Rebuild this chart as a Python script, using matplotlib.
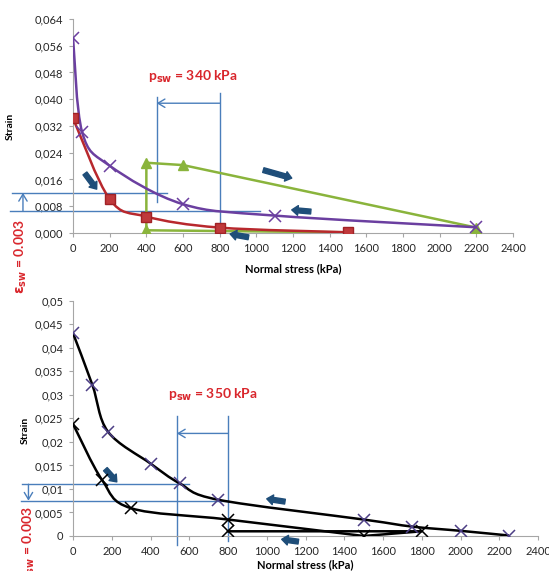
import matplotlib

matplotlib.use("Agg")
import matplotlib.pyplot as plt
import numpy as np
from matplotlib.patches import PathPatch
from matplotlib.path import Path
from matplotlib.ticker import FuncFormatter, MultipleLocator

plt.rcParams["font.family"] = ["Lato", "DejaVu Sans"]

# ---- top panel data (kPa, strain) ----
purple_x = [0, 50, 200, 600, 1100, 2200]
purple_y = [0.0584, 0.0301, 0.0201, 0.0086, 0.0052, 0.0017]
red_x = [0, 200, 400, 800, 1500]
red_y = [0.0343, 0.0101, 0.0049, 0.0016, 0.0002]
green_x = [1500, 400, 400, 600, 2200]
green_y = [0.0002, 0.0008, 0.0210, 0.0203, 0.0016]

# ---- bottom panel data ----
upper_x = [0, 100, 180, 400, 550, 750, 1500, 1750, 2000, 2250]
upper_y = [0.0431, 0.0321, 0.0222, 0.0154, 0.0112, 0.0077, 0.0035, 0.0020, 0.0011, 0.0001]
lower_x = [0, 150, 300, 800, 1500]
lower_y = [0.0238, 0.0119, 0.0059, 0.0035, 0.0]
lower_tail_x = [1500, 1800, 800]
lower_tail_y = [0.0, 0.0010, 0.0010]

RED_TXT = "#d9262c"
THIN = "#4a7ebb"
FAT = "#1f4e79"


def smooth_path(xs, ys):
    # excel-like smoothed line (catmull-rom as cubic bezier)
    pts = np.column_stack([xs, ys]).astype(float)
    n = len(pts)
    verts, codes = [pts[0]], [Path.MOVETO]
    for i in range(n - 1):
        p0 = pts[i - 1] if i > 0 else pts[i]
        p1, p2 = pts[i], pts[i + 1]
        p3 = pts[i + 2] if i + 2 < n else pts[i + 1]
        verts += [p1 + (p2 - p0) / 6, p2 - (p3 - p1) / 6, p2]
        codes += [Path.CURVE4] * 3
    return Path(verts, codes)


def smooth(ax, xs, ys, color, lw=1.8):
    ax.add_patch(PathPatch(smooth_path(xs, ys), fill=False, ec=color, lw=lw,
                           transform=ax.transData, zorder=3))


def fat_arrow(ax, tail, head):
    ax.annotate("", xy=head, xytext=tail, annotation_clip=False,
                arrowprops=dict(arrowstyle="simple,head_length=0.45,head_width=0.7,tail_width=0.35",
                                fc=FAT, ec=FAT, mutation_scale=10, shrinkA=0, shrinkB=0))


def thin_arrow(ax, tail, head):
    ax.annotate("", xy=head, xytext=tail, annotation_clip=False,
                arrowprops=dict(arrowstyle="->,head_length=0.5,head_width=0.3",
                                color=THIN, lw=1.0, shrinkA=0, shrinkB=0))


def hline(ax, y, x0, x1):
    ax.plot([x0, x1], [y, y], color=THIN, lw=1.0, clip_on=False, zorder=2)


def vline(ax, x, y0, y1):
    ax.plot([x, x], [y0, y1], color=THIN, lw=1.0, clip_on=False, zorder=2)


def style(ax, fmt):
    for s in ("top", "right"):
        ax.spines[s].set_visible(False)
    for s in ("left", "bottom"):
        ax.spines[s].set_color("#a6a6a6")
    ax.tick_params(colors="#a6a6a6", labelcolor="#262626", labelsize=8, length=3, pad=4)
    ax.yaxis.set_major_formatter(FuncFormatter(fmt))
    ax.xaxis.set_major_locator(MultipleLocator(200))
    ax.set_xlim(0, 2400)
    ax.set_xlabel("Normal stress (kPa)", fontsize=8, fontweight="bold")
    ax.set_ylabel("Strain", fontsize=7.5, fontweight="bold")


fig = plt.figure(figsize=(5.49, 5.71), dpi=100)

# ================= top =================
ax1 = fig.add_axes([0.133, 0.592, 0.8015, 0.3748])
style(ax1, lambda v, p: f"{v:.3f}".replace(".", ","))
ax1.set_ylim(0, 0.064)
ax1.yaxis.set_major_locator(MultipleLocator(0.008))
ax1.yaxis.set_label_coords(-0.132, 0.5)
ax1.xaxis.set_label_coords(0.5, -0.14)

ax1.plot(green_x, green_y, color="#8ab43c", lw=1.8, marker="^", ms=7,
         mfc="#8ab43c", mec="#8ab43c", zorder=3)
smooth(ax1, purple_x, purple_y, "#6b3fa0")
ax1.plot(purple_x, purple_y, ls="none", marker="x", ms=8, mew=1.1, color="#6b3fa0", zorder=4)
smooth(ax1, red_x, red_y, "#b8282d")
ax1.plot(red_x, red_y, ls="none", marker="s", ms=7, mfc="#c0393b", mec="#a02226", zorder=5)

hline(ax1, 0.0120, -333, 511)
hline(ax1, 0.0066, -345, 1020)
thin_arrow(ax1, (-273, 0.0066), (-273, 0.0120))
vline(ax1, 456, 0.0094, 0.0408)
vline(ax1, 802, 0.0, 0.0418)
thin_arrow(ax1, (802, 0.0388), (456, 0.0388))
ax1.text(655, 0.0467, r"p$_{\mathbf{sw}}$ = 340 kPa", color=RED_TXT, fontsize=10,
         fontweight="bold", ha="center", va="center")

fat_arrow(ax1, (65, 0.0178), (129, 0.0131))
fat_arrow(ax1, (1038, 0.0188), (1193, 0.0164))
fat_arrow(ax1, (1297, 0.0064), (1193, 0.0069))
fat_arrow(ax1, (957, -0.0013), (857, -0.0003))

fig.text(0.038, 0.55, r"$\mathbf{\varepsilon}_{\mathbf{sw}}$ = 0.003", rotation=90,
         color=RED_TXT, fontsize=10, fontweight="bold", ha="center", va="center")

# ================= bottom =================
ax2 = fig.add_axes([0.133, 0.0613, 0.847, 0.412])


def gen_fmt(v, p):
    return f"{v:.3f}".rstrip("0").rstrip(".").replace(".", ",")


style(ax2, gen_fmt)
ax2.set_ylim(0, 0.05)
ax2.yaxis.set_major_locator(MultipleLocator(0.005))
ax2.yaxis.set_label_coords(-0.094, 0.45)
ax2.xaxis.set_label_coords(0.5, -0.1)

smooth(ax2, upper_x, upper_y, "black")
ax2.plot(upper_x, upper_y, ls="none", marker="x", ms=8, mew=1.1, color="#4d3f86", zorder=4)
smooth(ax2, lower_x, lower_y, "black")
ax2.plot(lower_tail_x, lower_tail_y, color="black", lw=1.8, zorder=3)
ax2.plot(lower_x + lower_tail_x[1:], lower_y + lower_tail_y[1:], ls="none", marker="x",
         ms=8, mew=1.1, color="black", zorder=4)

hline(ax2, 0.0110, -263, 600)
hline(ax2, 0.0075, -270, 800)
thin_arrow(ax2, (-230, 0.0110), (-230, 0.0075))
vline(ax2, 536, -0.0019, 0.0254)
vline(ax2, 800, -0.0010, 0.0254)
thin_arrow(ax2, (800, 0.0218), (536, 0.0218))
ax2.text(724, 0.0300, r"p$_{\mathbf{sw}}$ = 350 kPa", color=RED_TXT, fontsize=10,
         fontweight="bold", ha="center", va="center")

fat_arrow(ax2, (167, 0.0142), (226, 0.0115))
fat_arrow(ax2, (1094, 0.0073), (1000, 0.0079))
fat_arrow(ax2, (1163, -0.0012), (1077, -0.0007))

fig.text(0.053, 0.047, r"$\mathbf{\varepsilon}_{\mathbf{sw}}$ = 0.003", rotation=90,
         color=RED_TXT, fontsize=10, fontweight="bold", ha="center", va="center")

fig.savefig("out.png", dpi=100)
